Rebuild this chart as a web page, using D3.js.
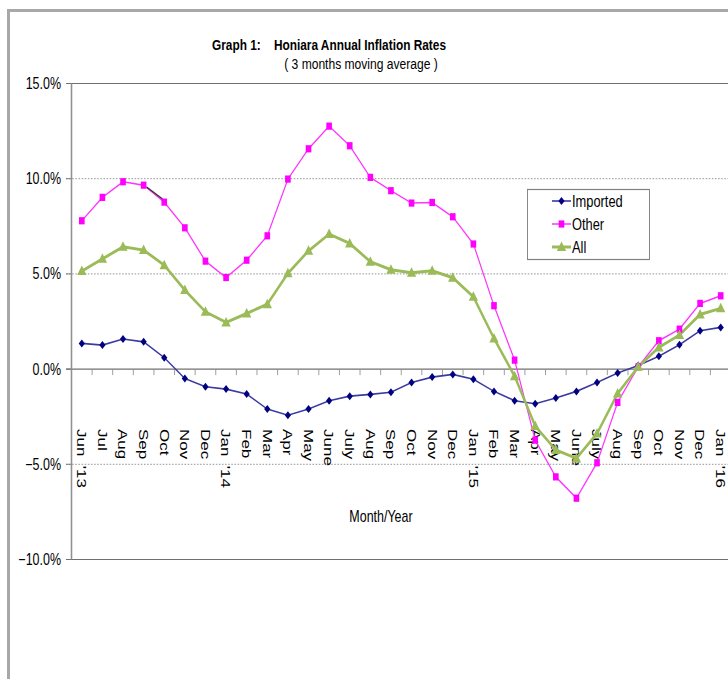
<!DOCTYPE html>
<html lang="en">
<head>
<meta charset="UTF-8">
<script src="https://d3js.org/d3.v7.min.js"></script>
<title>Honiara Annual Inflation Rates</title>
<style>
    body { margin: 0; background: white; }
    svg { display: block; }
    text { font-family: "Liberation Sans", Arial, sans-serif; fill: #000; }
</style>
</head>
<body>
<div id="chart"></div>
<script>
    // data (annual inflation, %)
    const months = ["Jun\u00a0\u00a0'13", "Jul", "Aug", "Sep", "Oct", "Nov", "Dec",
        "Jan\u00a0\u00a0'14", "Feb", "Mar", "Apr", "May", "June", "July", "Aug", "Sep", "Oct", "Nov", "Dec",
        "Jan\u00a0\u00a0'15", "Feb", "Mar", "Apr", "May", "June", "July", "Aug", "Sep", "Oct", "Nov", "Dec",
        "Jan\u00a0\u00a0'16"];
    const imported = [1.35, 1.26, 1.58, 1.43, 0.60, -0.50, -0.93, -1.05, -1.31, -2.10, -2.42, -2.10, -1.66, -1.42, -1.33, -1.22,
        -0.70, -0.42, -0.28, -0.53, -1.17, -1.66, -1.82, -1.52, -1.17, -0.70, -0.21, 0.19, 0.67, 1.28, 2.01, 2.19];
    const other = [7.79, 9.02, 9.84, 9.66, 8.77, 7.42, 5.67, 4.81, 5.72, 7.00, 9.98, 11.57, 12.76, 11.73, 10.07, 9.37,
        8.72, 8.75, 8.00, 6.57, 3.33, 0.47, -3.73, -5.66, -6.78, -4.92, -1.75, 0.12, 1.49, 2.10, 3.45, 3.85];
    const all = [5.15, 5.79, 6.42, 6.25, 5.46, 4.15, 3.01, 2.45, 2.92, 3.41, 5.03, 6.21, 7.09, 6.60, 5.64, 5.22,
        5.06, 5.16, 4.80, 3.80, 1.61, -0.37, -2.99, -4.25, -4.69, -3.38, -1.28, 0.12, 1.14, 1.79, 2.87, 3.19];
    const yTicks = [15, 10, 5, 0, -5, -10];

    const W = 728, H = 679;
    const sx = 0.78; // the picture is squeezed sideways, so draw in a stretched frame

    const svg = d3.select("#chart").append("svg")
        .attr("width", W)
        .attr("height", H);

    // outer frame
    svg.append("path")
        .attr("d", `M8.5,${H} V10.5 H${W}`)
        .attr("fill", "none")
        .attr("stroke", "#a8a8a8")
        .attr("stroke-width", 3);

    const g = svg.append("g").attr("transform", `scale(${sx},1)`);

    const left = 71.5, right = 731;
    const x = d3.scaleBand()
        .domain(d3.range(months.length))
        .range([left / sx, right / sx]);
    const cx = i => x(i) + x.bandwidth() / 2;

    const y = d3.scaleLinear()
        .domain([-10, 15])
        .range([559.5, 83.5]);

    const solid = d => d === 0 || d === 15 || d === -10;

    // gridlines
    g.selectAll(".grid")
        .data(yTicks)
        .enter()
        .append("line")
        .attr("x1", 66 / sx)
        .attr("x2", W / sx)
        .attr("y1", d => y(d))
        .attr("y2", d => y(d))
        .attr("stroke", d => solid(d) ? "#707070" : "#888")
        .attr("stroke-width", d => solid(d) ? 1.2 : 1)
        .attr("stroke-dasharray", d => solid(d) ? null : "2,2");

    // tick marks at left of axis
    g.selectAll(".ytick")
        .data(yTicks)
        .enter()
        .append("line")
        .attr("x1", 66 / sx)
        .attr("x2", left / sx)
        .attr("y1", d => y(d))
        .attr("y2", d => y(d))
        .attr("stroke", "#707070");

    // y axis line
    g.append("line")
        .attr("x1", left / sx).attr("x2", left / sx)
        .attr("y1", y(15)).attr("y2", y(-10))
        .attr("stroke", "#909090")
        .attr("stroke-width", 2);

    // y labels
    g.selectAll(".ylab")
        .data(yTicks)
        .enter()
        .append("text")
        .attr("x", 61 / sx)
        .attr("y", d => y(d))
        .attr("dy", "0.35em")
        .attr("text-anchor", "end")
        .style("font-size", "16px")
        .text(d => d3.format(".1f")(d) + "%");

    // category ticks on the zero line
    g.selectAll(".xtick")
        .data(d3.range(1, months.length))
        .enter()
        .append("line")
        .attr("x1", d => x(d))
        .attr("x2", d => x(d))
        .attr("y1", y(0))
        .attr("y2", y(0) + 6)
        .attr("stroke", "#909090");

    // x labels, rotated
    g.selectAll(".xlab")
        .data(months)
        .enter()
        .append("text")
        .attr("transform", (d, i) => `translate(${cx(i)},429) rotate(90)`)
        .attr("dy", "0.35em")
        .style("font-size", "17px")
        .text(d => d);

    // series
    const line = d3.line()
        .x((d, i) => cx(i))
        .y(d => y(d));

    g.append("path")
        .datum(imported)
        .attr("d", line)
        .attr("fill", "none")
        .attr("stroke", "#3a3aa0")
        .attr("stroke-width", 1.6);

    g.append("path")
        .datum(other)
        .attr("d", line)
        .attr("fill", "none")
        .attr("stroke", "#ff33ff")
        .attr("stroke-width", 1.5);

    // short dark stretch on the Other line between Sep and Oct '13
    g.append("line")
        .attr("x1", cx(3) + 4).attr("y1", y(other[3]) + 2)
        .attr("x2", cx(4) - 2).attr("y2", y(other[4]) - 3)
        .attr("stroke", "#333")
        .attr("stroke-width", 1.3);

    g.append("path")
        .datum(all)
        .attr("d", line)
        .attr("fill", "none")
        .attr("stroke", "#9bbb59")
        .attr("stroke-width", 3);

    // markers
    const diamond = (px, py) => `M${px},${py - 4}L${px + 4},${py}L${px},${py + 4}L${px - 4},${py}Z`;
    const tri = (px, py) => `M${px},${py - 5.5}L${px + 6},${py + 4}L${px - 6},${py + 4}Z`;

    g.selectAll(".mImp")
        .data(imported)
        .enter()
        .append("path")
        .attr("d", (d, i) => diamond(cx(i), y(d)))
        .attr("fill", "#000080");

    g.selectAll(".mOth")
        .data(other)
        .enter()
        .append("rect")
        .attr("x", (d, i) => cx(i) - 3.6)
        .attr("y", d => y(d) - 3.6)
        .attr("width", 7.2)
        .attr("height", 7.2)
        .attr("fill", "#ff00ff");

    g.selectAll(".mAll")
        .data(all)
        .enter()
        .append("path")
        .attr("d", (d, i) => tri(cx(i), y(d)))
        .attr("fill", "#9bbb59");

    // titles
    g.append("text")
        .attr("x", 212 / sx)
        .attr("y", 50)
        .style("font-size", "15.2px")
        .style("font-weight", "bold")
        .style("white-space", "pre")
        .text("Graph 1:    Honiara Annual Inflation Rates");

    g.append("text")
        .attr("x", 361 / sx)
        .attr("y", 69)
        .attr("text-anchor", "middle")
        .style("font-size", "15.5px")
        .text("( 3 months moving average )");

    g.append("text")
        .attr("x", 381 / sx)
        .attr("y", 522)
        .attr("text-anchor", "middle")
        .style("font-size", "16px")
        .text("Month/Year");

    // legend
    const legend = [
        { name: "Imported", color: "#3a3aa0", mark: "diamond", width: 1.6 },
        { name: "Other", color: "#ff33ff", mark: "square", width: 1.5 },
        { name: "All", color: "#9bbb59", mark: "tri", width: 3 }
    ];
    g.append("rect")
        .attr("x", 527.5 / sx)
        .attr("y", 189.5)
        .attr("width", 122 / sx)
        .attr("height", 70)
        .attr("fill", "white")
        .attr("stroke", "#808080")
        .attr("stroke-width", 1.2);

    legend.forEach((s, k) => {
        const ly = 201 + k * 23;
        const lx1 = 552 / sx, lx2 = 571 / sx, mx = 561.5 / sx;
        g.append("line")
            .attr("x1", lx1).attr("x2", lx2)
            .attr("y1", ly).attr("y2", ly)
            .attr("stroke", s.color)
            .attr("stroke-width", s.width);
        if (s.mark === "diamond") {
            g.append("path").attr("d", diamond(mx, ly)).attr("fill", "#000080");
        } else if (s.mark === "square") {
            g.append("rect").attr("x", mx - 3.6).attr("y", ly - 3.6)
                .attr("width", 7.2).attr("height", 7.2).attr("fill", "#ff00ff");
        } else {
            g.append("path").attr("d", tri(mx, ly)).attr("fill", "#9bbb59");
        }
        g.append("text")
            .attr("x", 572 / sx)
            .attr("y", ly)
            .attr("dy", "0.35em")
            .style("font-size", "16.5px")
            .text(s.name);
    });
</script>
</body>
</html>
